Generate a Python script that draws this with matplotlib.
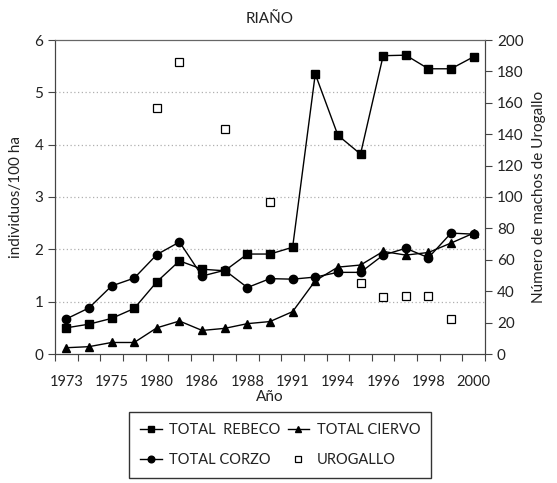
import numpy as np
import matplotlib
matplotlib.use("Agg")
import matplotlib.pyplot as plt
from matplotlib.ticker import FixedLocator

plt.rcParams['font.family'] = ['Lato', 'DejaVu Sans']

years = ["1973", "", "1975", "", "1980", "", "1986", "", "1988", "", "1991", "",
         "1994", "", "1996", "", "1998", "", "2000"]
rebeco = [0.50, 0.57, 0.68, 0.87, 1.38, 1.78, 1.62, 1.59, 1.91, 1.91, 2.04,
          5.35, 4.18, 3.82, 5.70, 5.71, 5.45, 5.45, 5.68]
ciervo = [0.12, 0.14, 0.22, 0.22, 0.50, 0.63, 0.45, 0.49, 0.58, 0.62, 0.81,
          1.40, 1.66, 1.70, 1.96, 1.89, 1.94, 2.12, 2.31]
corzo = [0.67, 0.88, 1.30, 1.45, 1.90, 2.14, 1.49, 1.60, 1.27, 1.44, 1.43,
         1.47, 1.56, 1.56, 1.89, 2.02, 1.84, 2.31, 2.29]
urogallo = [np.nan, np.nan, np.nan, np.nan, 157, 186, np.nan, 143, np.nan, 97,
            np.nan, np.nan, np.nan, 45, 36, 37, 37, 22, np.nan]

x = np.arange(len(years))
grey = '#444444'

fig = plt.figure(figsize=(5.57, 4.83), dpi=100)
ax = fig.add_axes([55/557, 1-354/483, 430/557, 314/483])
ax2 = ax.twinx()

l1, = ax.plot(x, rebeco, '-', color='black', lw=1, marker='s', ms=5.5, mfc='black')
l2, = ax.plot(x, ciervo, '-', color='black', lw=1, marker='^', ms=5.5, mfc='black')
l3, = ax.plot(x, corzo, '-', color='black', lw=1, marker='o', ms=6, mfc='black')
l4, = ax2.plot(x, urogallo, ls='none', marker='s', ms=5.5, mfc='white', mec='black', mew=0.9)

ax.set_xlim(-0.5, len(years) - 0.5)
ax.set_ylim(0, 6)
ax2.set_ylim(0, 200)
ax.set_yticks(range(0, 7))
ax2.set_yticks(range(0, 201, 20))

ax.xaxis.set_major_locator(FixedLocator(x))
ax.set_xticklabels(years)
ax.xaxis.set_minor_locator(FixedLocator(np.arange(-0.5, len(years), 1)))
ax.tick_params(axis='x', which='major', length=0, pad=15)
ax.tick_params(axis='x', which='minor', length=5, color=grey, width=0.8)

for y in range(1, 6):
    ax.axhline(y, color='#b0b0b0', lw=0.9, ls=(0, (1, 2)), zorder=0)

for a in (ax, ax2):
    for s in a.spines.values():
        s.set_color(grey)
        s.set_linewidth(0.8)
    a.tick_params(axis='y', length=5, color=grey, width=0.8, labelsize=11, colors='#222222')
    a.tick_params(axis='x', labelsize=10.5, colors='#222222')
ax.tick_params(axis='x', which='minor', colors=grey)
ax2.spines['top'].set_color('#666666')

ax.set_ylabel('individuos/100 ha', fontsize=11, color='#222222', labelpad=8)
ax2.set_ylabel('Número de machos de Urogallo', fontsize=11, color='#222222', labelpad=6)
ax.set_xlabel('Año', fontsize=11, color='#222222', labelpad=1)
ax.set_title('RIAÑO', fontsize=11, color='#222222', pad=12)

leg = fig.legend([l1, l3, l2, l4], ['TOTAL  REBECO', 'TOTAL CORZO', 'TOTAL CIERVO', 'UROGALLO'],
                 ncol=2, loc='center', bbox_to_anchor=(280/557, 38/483), fontsize=10.5,
                 frameon=True, fancybox=False, edgecolor='black', handlelength=1.5,
                 columnspacing=0.5, handletextpad=0.5, labelspacing=1.15, borderpad=0.75,
                 markerscale=0.8)
leg.get_frame().set_linewidth(1.0)
for t in leg.get_texts():
    t.set_color('#222222')

fig.savefig('out.png', dpi=100)
